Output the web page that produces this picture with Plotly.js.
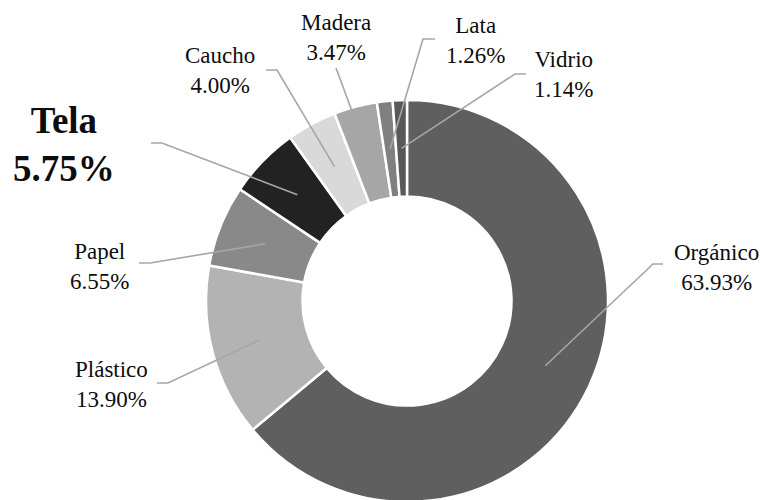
<!DOCTYPE html>
<html><head><meta charset="utf-8">
<script src="https://cdn.plot.ly/plotly-3.0.1.min.js"></script>
<style>html,body{margin:0;padding:0;overflow:hidden;background:#fff}</style>
</head><body><div id="chart" style="width:763px;height:502px"></div>
<script>
// ---- data ----
const categories = ['Orgánico','Plástico','Papel','Tela','Caucho','Madera','Lata','Vidrio'];
const percentages = [63.93, 13.90, 6.55, 5.75, 4.00, 3.47, 1.26, 1.14];
const percentLabels = ['63.93%','13.90%','6.55%','5.75%','4.00%','3.47%','1.26%','1.14%'];

// ---- styles / layout config ----
const sliceColors = ['#5f5f5f','#b3b3b3','#898989','#222222','#d9d9d9','#a6a6a6','#808080','#595959'];
const W = 763, H = 502;
const cx = 407, cy = 301, R = 201, holeFrac = 0.52;
// label text centre (tx,ty), elbow (ex,ey), end of horizontal tick (hx)
const labelLayout = [
  {tx:716, ty:267, ex:653, ey:264, hx:663},
  {tx:111, ty:384, ex:168, ey:383, hx:157},
  {tx:99,  ty:266, ex:150, ey:263, hx:139},
  {tx:64,  ty:145, ex:162, ey:143, hx:151, big:true},
  {tx:220, ty:71,  ex:277, ey:70,  hx:266},
  {tx:336, ty:37,  ex:336, ey:68,  hx:336},
  {tx:475, ty:40,  ex:423, ey:39,  hx:435},
  {tx:563, ty:75,  ex:515, ey:74,  hx:526}
];

const px = x => x / W;
const py = y => 1 - y / H;

const total = percentages.reduce((a,b)=>a+b,0);
const rMid = R * (1 + holeFrac) / 2;
const shapes = [], annotations = [];
let cum = 0;
percentages.forEach((v,i)=>{
  const mid = (cum + v/2) / total * 2 * Math.PI;
  cum += v;
  const sx = cx + rMid * Math.sin(mid);
  const sy = cy - rMid * Math.cos(mid);
  const L = labelLayout[i];
  shapes.push({
    type:'path', xref:'paper', yref:'paper', layer:'above',
    path:`M${px(sx)},${py(sy)} L${px(L.ex)},${py(L.ey)} L${px(L.hx)},${py(L.ey)}`,
    line:{color:'#a6a6a6', width:1.6}
  });
  const txt = categories[i] + '<br>' + percentLabels[i];
  annotations.push({
    xref:'paper', yref:'paper', x:px(L.tx), y:py(L.ty),
    xanchor:'center', yanchor:'middle', showarrow:false,
    text: L.big ? '<b>' + txt + '</b>' : txt,
    font:{family:'"Times New Roman", "Liberation Serif", Times, serif', size: L.big ? 37 : 23, color:'#0d0d0d'}
  });
});

const trace = {
  type:'pie',
  labels: categories,
  values: percentages,
  sort:false,
  direction:'clockwise',
  rotation:0,
  hole: holeFrac,
  textinfo:'none',
  hoverinfo:'label+percent',
  marker:{colors: sliceColors, line:{color:'#ffffff', width:2.5}},
  domain:{x:[px(cx-R), px(cx+R)], y:[py(cy+R), py(cy-R)]},
  showlegend:false
};

Plotly.newPlot('chart', [trace], {
  width:W, height:H,
  margin:{l:0,r:0,t:0,b:0},
  paper_bgcolor:'#ffffff',
  shapes, annotations,
  showlegend:false
}, {displayModeBar:false, staticPlot:true});
</script>
</body></html>
